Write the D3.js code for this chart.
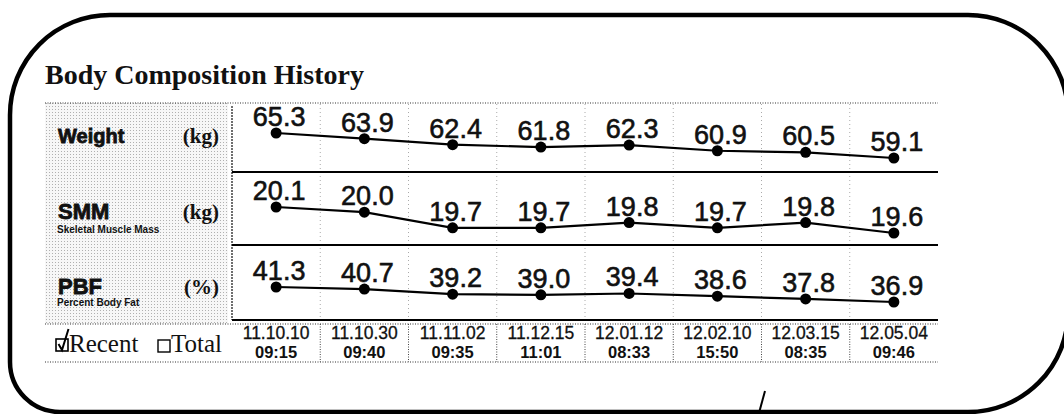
<!DOCTYPE html>
<html>
<head>
<meta charset="utf-8">
<script src="https://cdn.jsdelivr.net/npm/d3@7"></script>
<style>
body { margin: 0; background: #fff; }
svg { display: block; }
.val { font-family: "Liberation Sans", Arial, sans-serif; font-size: 27px; fill: #111; stroke: #111; stroke-width: 0.6px; }
.rowname { font-family: "Liberation Sans", Arial, sans-serif; font-weight: bold; fill: #111; stroke: #111; stroke-width: 0.8px; }
.unit { font-family: "Liberation Serif", "Times New Roman", serif; font-weight: bold; font-size: 21px; fill: #111; }
.sub { font-family: "Liberation Sans", Arial, sans-serif; font-weight: bold; font-size: 10px; fill: #111; }
.date { font-family: "Liberation Sans", Arial, sans-serif; font-size: 17.5px; fill: #111; stroke: #111; stroke-width: 0.3px; }
.time { font-family: "Liberation Sans", Arial, sans-serif; font-weight: bold; font-size: 16.5px; fill: #111; }
.serif { font-family: "Liberation Serif", "Times New Roman", serif; fill: #111; }
</style>
</head>
<body>
<svg id="chart" width="1064" height="414"></svg>
<script>
// measurement dates / times
const dates = ["11.10.10", "11.10.30", "11.11.02", "11.12.15", "12.01.12", "12.02.10", "12.03.15", "12.05.04"];
const times = ["09:15", "09:40", "09:35", "11:01", "08:33", "15:50", "08:35", "09:46"];

// series
const weight = [65.3, 63.9, 62.4, 61.8, 62.3, 60.9, 60.5, 59.1];
const smm = [20.1, 20.0, 19.7, 19.7, 19.8, 19.7, 19.8, 19.6];
const pbf = [41.3, 40.7, 39.2, 39.0, 39.4, 38.6, 37.8, 36.9];

const svg = d3.select("#chart");
const left = 232, right = 938, panelLeft = 45;
const x = d3.scaleBand().domain(dates).range([left, right]);
const cx = d => x(d) + x.bandwidth() / 2;
const fmt = d3.format(".1f");

// stippled background of the label panel
const defs = svg.append("defs");
const pat = defs.append("pattern")
    .attr("id", "stipple").attr("width", 3).attr("height", 3)
    .attr("patternUnits", "userSpaceOnUse");
pat.append("rect").attr("width", 3).attr("height", 3).attr("fill", "#f7f7f7");
pat.append("rect").attr("x", 1).attr("y", 1).attr("width", 1).attr("height", 1).attr("fill", "#b0b0b0");

// outer rounded frame
const fx0 = 10, fy0 = 15, fx1 = 1068, fy1 = 412;
const rTL = 100, rTR = 100, rBR = 100, rBL = 50;
svg.append("path")
    .attr("d", `M${fx0 + rTL},${fy0} H${fx1 - rTR} A${rTR},${rTR} 0 0 1 ${fx1},${fy0 + rTR}
        V${fy1 - rBR} A${rBR},${rBR} 0 0 1 ${fx1 - rBR},${fy1} H${fx0 + rBL}
        A${rBL},${rBL} 0 0 1 ${fx0},${fy1 - rBL} V${fy0 + rTL} A${rTL},${rTL} 0 0 1 ${fx0 + rTL},${fy0} Z`)
    .attr("fill", "none").attr("stroke", "#000").attr("stroke-width", 4.5);

// title
svg.append("text").attr("class", "serif")
    .attr("x", 45).attr("y", 84)
    .attr("font-size", 28).attr("font-weight", "bold")
    .text("Body Composition History");

const dateTop = 324, dateBottom = 362;

svg.append("rect")
    .attr("x", panelLeft).attr("y", 103)
    .attr("width", left - panelLeft - 4).attr("height", dateTop - 103)
    .attr("fill", "url(#stipple)");

const rows = [
    { name: "Weight", unit: "(kg)", sub: null, values: weight, top: 103, bottom: 172, yRange: [158, 133], size: 20, nameY: 143, subY: 0 },
    { name: "SMM", unit: "(kg)", sub: "Skeletal Muscle Mass", values: smm, top: 172, bottom: 245, yRange: [233, 207], size: 22, nameY: 219, subY: 233 },
    { name: "PBF", unit: "(%)", sub: "Percent Body Fat", values: pbf, top: 245, bottom: 320, yRange: [302, 287], size: 22, nameY: 294, subY: 306 }
];

// column separators
svg.selectAll(".sep").data(dates.slice(1)).join("line")
    .attr("x1", d => x(d)).attr("x2", d => x(d))
    .attr("y1", 104).attr("y2", 320)
    .attr("stroke", "#aaa").attr("stroke-width", 1).attr("stroke-dasharray", "1,3");
svg.selectAll(".sep2").data(dates.slice(1)).join("line")
    .attr("x1", d => x(d)).attr("x2", d => x(d))
    .attr("y1", dateTop).attr("y2", dateBottom)
    .attr("stroke", "#444").attr("stroke-width", 1).attr("stroke-dasharray", "1,1.5");

// dotted horizontal rules
[103, dateTop, dateBottom].forEach(yy => {
    svg.append("line")
        .attr("x1", panelLeft).attr("x2", right).attr("y1", yy).attr("y2", yy)
        .attr("stroke", "#333").attr("stroke-width", 1.2).attr("stroke-dasharray", "1,1.5");
});

// vertical line left of the plot
svg.append("line")
    .attr("x1", left).attr("x2", left).attr("y1", 106).attr("y2", 320)
    .attr("stroke", "#222").attr("stroke-width", 1.3).attr("stroke-dasharray", "2,1");

rows.forEach(r => {
    const y = d3.scaleLinear().domain(d3.extent(r.values)).range(r.yRange);

    svg.append("line")
        .attr("x1", left).attr("x2", right).attr("y1", r.bottom).attr("y2", r.bottom)
        .attr("stroke", "#000").attr("stroke-width", 1.8);

    svg.append("path")
        .datum(r.values)
        .attr("fill", "none").attr("stroke", "#000").attr("stroke-width", 2.2)
        .attr("d", d3.line().x((v, i) => cx(dates[i])).y(v => y(v)));

    svg.selectAll(null).data(r.values).join("circle")
        .attr("cx", (v, i) => cx(dates[i])).attr("cy", v => y(v))
        .attr("r", 5.5).attr("fill", "#000");

    svg.selectAll(null).data(r.values).join("text")
        .attr("class", "val")
        .attr("x", (v, i) => cx(dates[i]) + 3).attr("y", v => y(v) - 7)
        .attr("text-anchor", "middle")
        .text(v => fmt(v));

    // row labels
    svg.append("text").attr("class", "rowname")
        .attr("x", 58).attr("y", r.nameY).attr("font-size", r.size)
        .text(r.name);
    svg.append("text").attr("class", "unit")
        .attr("x", 219).attr("y", r.nameY).attr("text-anchor", "end")
        .text(r.unit);
    if (r.sub) {
        svg.append("text").attr("class", "sub")
            .attr("x", 57).attr("y", r.subY)
            .text(r.sub);
    }
});

// date row
svg.selectAll(".date").data(dates).join("text")
    .attr("class", "date")
    .attr("x", d => cx(d)).attr("y", 339)
    .attr("text-anchor", "middle")
    .text(d => d);
svg.selectAll(".time").data(times).join("text")
    .attr("class", "time")
    .attr("x", (t, i) => cx(dates[i])).attr("y", 358)
    .attr("text-anchor", "middle")
    .text(t => t);

// Recent / Total toggles
svg.append("rect").attr("x", 56).attr("y", 339).attr("width", 12).attr("height", 12)
    .attr("fill", "none").attr("stroke", "#000").attr("stroke-width", 1.6);
svg.append("path").attr("d", "M58.5,344 L62,350 L68.5,329")
    .attr("fill", "none").attr("stroke", "#000").attr("stroke-width", 2);
svg.append("text").attr("class", "serif").attr("x", 69).attr("y", 352)
    .attr("font-size", 25).text("Recent");
svg.append("rect").attr("x", 158).attr("y", 340).attr("width", 12).attr("height", 12)
    .attr("fill", "none").attr("stroke", "#000").attr("stroke-width", 1.4);
svg.append("text").attr("class", "serif").attr("x", 171).attr("y", 352)
    .attr("font-size", 25).text("Total");

// pen mark near the bottom edge
svg.append("path").attr("d", "M765,391 L759,413")
    .attr("stroke", "#000").attr("stroke-width", 2).attr("fill", "none");
</script>
</body>
</html>
